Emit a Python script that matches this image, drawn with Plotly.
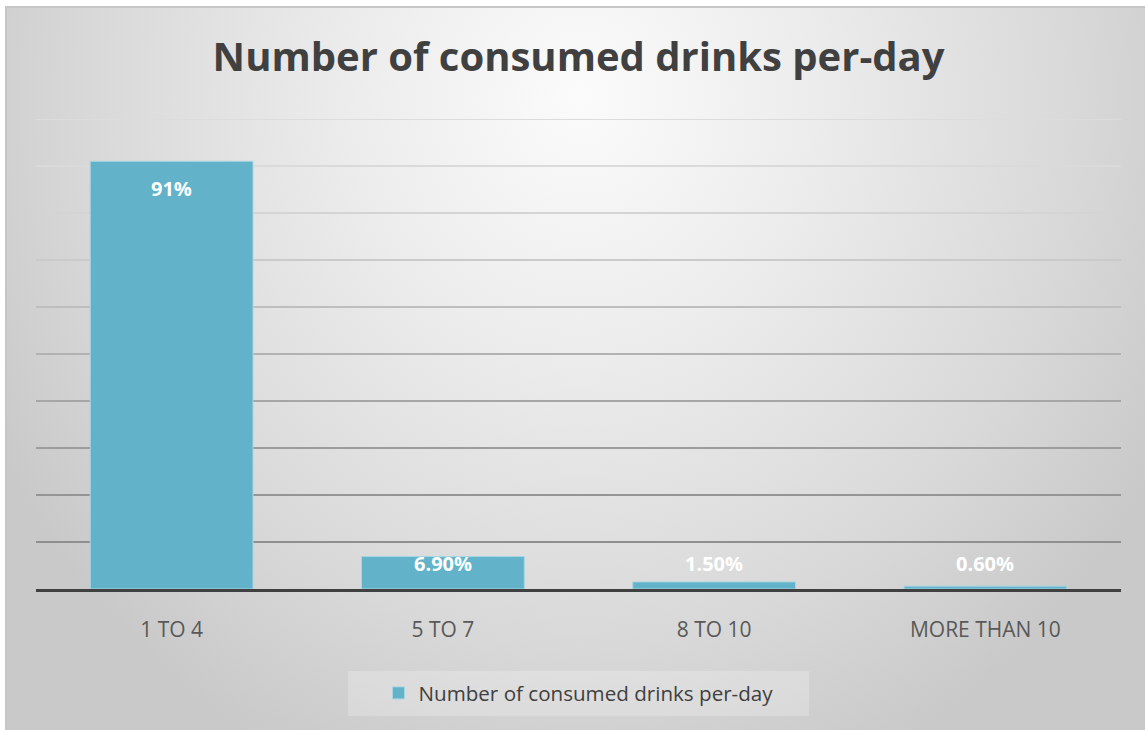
import base64
import plotly.graph_objects as go

# ---- data ----
categories = ["1 TO 4", "5 TO 7", "8 TO 10", "MORE THAN 10"]
values = [0.91, 0.069, 0.015, 0.006]
value_labels = ["91%", "6.90%", "1.50%", "0.60%"]
series_name = "Number of consumed drinks per-day"
title_text = "Number of consumed drinks per-day"
grid_ticks = [0.1, 0.2, 0.3, 0.4, 0.5, 0.6, 0.7, 0.8, 0.9, 1.0]

# ---- styling ----
W, H = 1145, 730
ML, MR, MT, MB = 36, 24, 119, 141
PW, PH = W - ML - MR, H - MT - MB
BAR = "#62b3c9"
FONT = "Open Sans"


def px_to_paper_x(px):
    return (px - ML) / PW


def px_to_paper_y(py):
    return (H - MB - py) / PH


# radial gradient background as svg
svg = f"""<svg xmlns='http://www.w3.org/2000/svg' width='1139' height='723' viewBox='0 0 1139 723'>
<defs><radialGradient id='g' gradientUnits='userSpaceOnUse' cx='575' cy='90' r='700'
 gradientTransform='translate(575 90) scale(0.95 1.05) translate(-575 -90)'>
<stop offset='0' stop-color='#fbfbfb'/><stop offset='0.35' stop-color='#ececec'/>
<stop offset='0.75' stop-color='#d8d8d8'/><stop offset='1' stop-color='#c9c9c9'/></radialGradient></defs>
<rect width='1139' height='723' fill='url(#g)'/></svg>"""
src = "data:image/svg+xml;base64," + base64.b64encode(svg.encode()).decode()

fig = go.Figure()
fig.add_trace(go.Bar(
    x=categories, y=values, name=series_name,
    marker=dict(color=BAR, line=dict(color="#a6d5e3", width=1)),
    showlegend=True, hoverinfo="skip",
))

# gridline shapes with graded colours (light at top, darker near base)
grid_colors = ["#8f8f8f", "#959595", "#9c9c9c", "#a6a6a6", "#b2b2b2",
               "#bebebe", "#cacaca", "#d4d4d4", "#dadada", "#dcdcdc"]
shapes = []
for t, c in zip(grid_ticks, grid_colors):
    shapes.append(dict(type="line", xref="paper", yref="y", x0=0, x1=1, y0=t, y1=t,
                       line=dict(color=c, width=2), layer="below"))
# legend background
shapes.append(dict(type="rect", xref="paper", yref="paper",
                   x0=px_to_paper_x(348), x1=px_to_paper_x(809),
                   y0=px_to_paper_y(716), y1=px_to_paper_y(671),
                   fillcolor="rgba(255,255,255,0.22)", line=dict(width=0), layer="below"))
# outer frame
shapes.append(dict(type="rect", xref="paper", yref="paper",
                   x0=px_to_paper_x(6), x1=px_to_paper_x(1150),
                   y0=px_to_paper_y(735), y1=px_to_paper_y(7),
                   line=dict(color="#c6c6c6", width=2), fillcolor="rgba(0,0,0,0)", layer="below"))

annotations = []
for cat, v, lab in zip(categories, values, value_labels):
    annotations.append(dict(
        x=cat, y=max(v - 0.0575, 0.0553), xref="x", yref="y",
        text=f"<b>{lab}</b>", showarrow=False, yanchor="middle",
        font=dict(family=FONT, size=20, color="white"),
    ))

fig.update_layout(
    width=W, height=H,
    margin=dict(l=ML, r=MR, t=MT, b=MB),
    paper_bgcolor="white", plot_bgcolor="rgba(0,0,0,0)",
    title=dict(text=f"<b>{title_text}</b>", x=0.5053, xanchor="center",
               y=1 - 57 / H, yanchor="middle", yref="container",
               font=dict(family=FONT, size=40, color="#404040")),
    bargap=0.4,
    xaxis=dict(showgrid=False, showline=True, linecolor="#404040", linewidth=3,
               ticks="", tickfont=dict(family=FONT, size=21, color="#595959"),
               ticklabelstandoff=20),
    yaxis=dict(range=[0, 1.0], showgrid=False, zeroline=False, showticklabels=False,
               fixedrange=True),
    showlegend=True,
    legend=dict(orientation="h", x=0.5, xanchor="center", y=px_to_paper_y(693),
                yanchor="middle", bgcolor="rgba(0,0,0,0)",
                font=dict(family=FONT, size=20.6, color="#404040")),
    shapes=shapes, annotations=annotations,
    images=[dict(source=src, xref="paper", yref="paper",
                 x=px_to_paper_x(6), y=px_to_paper_y(7),
                 sizex=1139 / PW, sizey=723 / PH, sizing="stretch",
                 xanchor="left", yanchor="top", layer="below")],
)

fig.write_html(
    "out.html",
    config={"displayModeBar": False},
    post_script="document.body.style.margin='0';document.body.style.padding='0';",
)
